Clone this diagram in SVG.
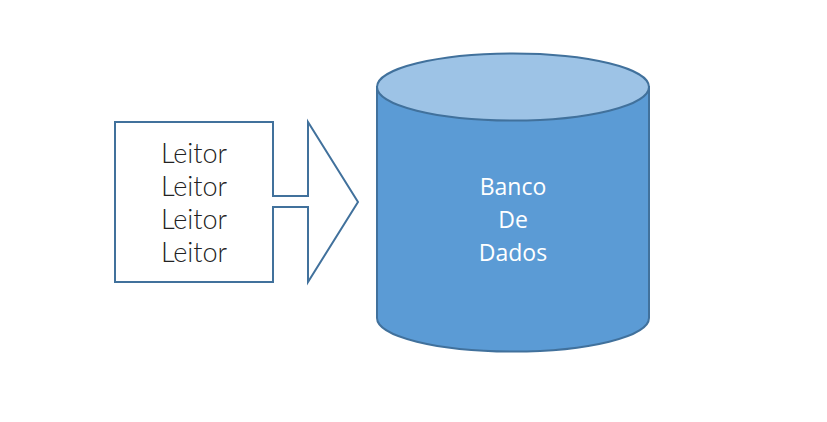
<svg xmlns="http://www.w3.org/2000/svg" width="827" height="422" viewBox="0 0 827 422">
<style>
.ln{stroke:#41719C;stroke-width:2;stroke-linejoin:miter}
.lt{font-family:Lato,"Noto Sans",sans-serif;font-weight:300;font-size:27px;fill:#222;text-anchor:middle}
.db{font-family:"Open Sans","Noto Sans",sans-serif;font-size:23px;fill:#fff;text-anchor:middle}
</style>
<rect width="827" height="422" fill="#fff"/>
<g id="leitores">
<path class="ln" fill="#fff" d="M115,122 H273 V196 H308 V122 L358,202 L308,282 V207 H273 V282 H115 Z"/>
<text class="lt" x="194" y="163">Leitor</text>
<text class="lt" x="194" y="196">Leitor</text>
<text class="lt" x="194" y="229">Leitor</text>
<text class="lt" x="194" y="262">Leitor</text>
</g>
<g id="banco">
<path class="ln" fill="#5B9BD5" d="M377,87 V318 A136,33.5 0 0 0 649,318 V87 Z"/>
<ellipse class="ln" fill="#9DC3E6" cx="513" cy="87" rx="136" ry="33.5"/>
<text class="db" x="513" y="195">Banco</text>
<text class="db" x="513" y="228">De</text>
<text class="db" x="513" y="261">Dados</text>
</g>
<g id="connectors"/>
</svg>
